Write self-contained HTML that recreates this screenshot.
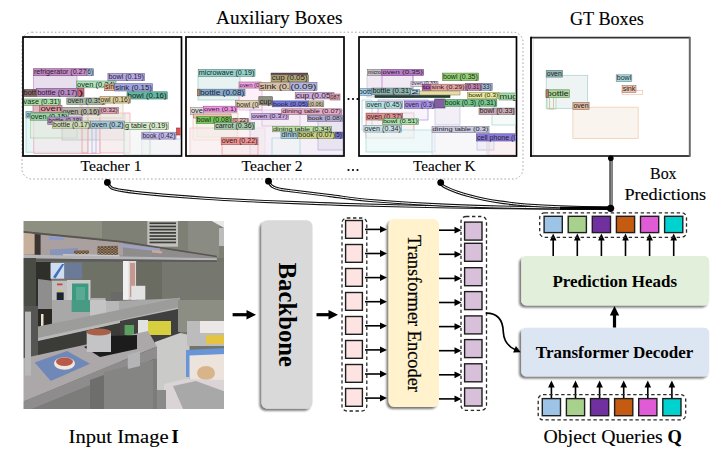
<!DOCTYPE html>
<html><head><meta charset="utf-8">
<style>
html,body{margin:0;padding:0;background:#fff;}
body{width:726px;height:471px;overflow:hidden;position:relative;}
svg{position:absolute;left:0;top:0;}
.sf{font-family:"Liberation Serif",serif;}
.ss{font-family:"Liberation Sans",sans-serif;}
</style></head><body>
<svg width="726" height="471" viewBox="0 0 726 471">
<defs>
  <filter id="sh" x="-20%" y="-20%" width="140%" height="140%">
    <feGaussianBlur in="SourceAlpha" stdDeviation="1.2"/>
    <feOffset dx="-2" dy="2" result="o"/>
    <feComponentTransfer><feFuncA type="linear" slope="0.55"/></feComponentTransfer>
    <feMerge><feMergeNode/><feMergeNode in="SourceGraphic"/></feMerge>
  </filter>
  <marker id="ah" viewBox="0 0 10 10" refX="9" refY="5" markerWidth="10" markerHeight="10" markerUnits="userSpaceOnUse" orient="auto">
    <path d="M0,0 L10,5 L0,10 z" fill="#000"/>
  </marker>
</defs>

<!-- ===== TOP TITLES ===== -->
<g class="sf" fill="#000" stroke="#000" stroke-width="0.12">
  <text x="216" y="24.2" font-size="18.2" textLength="126.5" lengthAdjust="spacingAndGlyphs">Auxiliary Boxes</text>
  <text x="570" y="24.8" font-size="18.6" textLength="73.8" lengthAdjust="spacingAndGlyphs">GT Boxes</text>
  <text x="80.5" y="170.7" font-size="14.6" textLength="61" lengthAdjust="spacingAndGlyphs">Teacher 1</text>
  <text x="241.6" y="170.7" font-size="14.6" textLength="61" lengthAdjust="spacingAndGlyphs">Teacher 2</text>
  <text x="413" y="170.7" font-size="14.6" textLength="62.5" lengthAdjust="spacingAndGlyphs">Teacher K</text>
  <text x="650" y="179.2" font-size="16" textLength="26.6" lengthAdjust="spacingAndGlyphs">Box</text>
  <text x="624.4" y="199.5" font-size="16" textLength="81.8" lengthAdjust="spacingAndGlyphs">Predictions</text>
  <text x="68.6" y="442.9" font-size="18.6" textLength="100" lengthAdjust="spacingAndGlyphs">Input Image</text>
  <text x="171.5" y="442.9" font-size="18.6" font-weight="bold">I</text>
  <text x="543.6" y="442.6" font-size="18.4" textLength="119" lengthAdjust="spacingAndGlyphs">Object Queries</text>
  <text x="667.5" y="442.6" font-size="18.4" font-weight="bold">Q</text>
</g>
<!-- dots -->
<g fill="#000">
  <circle cx="348.5" cy="170" r="1.1"/><circle cx="353" cy="170" r="1.1"/><circle cx="357.5" cy="170" r="1.1"/>
  <circle cx="348.5" cy="99" r="1.1"/><circle cx="353" cy="99" r="1.1"/><circle cx="357.5" cy="99" r="1.1"/>
</g>

<!-- dashed aux container -->
<rect x="22" y="32.2" width="501" height="146.8" rx="10" fill="none" stroke="#a6a6a6" stroke-width="1" stroke-dasharray="1.6 2.2"/>

<!-- ===== PANELS ===== -->
<g id="panels">
  <rect x="23" y="37" width="158.5" height="119" fill="#fff" stroke="#000" stroke-width="1.7"/>
  <rect x="186" y="37" width="158" height="119" fill="#fff" stroke="#000" stroke-width="1.7"/>
  <rect x="359" y="37" width="157.5" height="119" fill="#fff" stroke="#000" stroke-width="1.7"/>
  <rect x="531" y="37.8" width="159" height="118" fill="#fff"/>
  <line x1="531" y1="37.6" x2="690" y2="37.6" stroke="#333" stroke-width="1.6"/>
  <line x1="531" y1="36.8" x2="531" y2="156.8" stroke="#000" stroke-width="1.8"/>
  <line x1="530.2" y1="156" x2="690" y2="156" stroke="#000" stroke-width="1.6"/>
  <line x1="689.8" y1="36.8" x2="689.8" y2="156.8" stroke="#6a6a6a" stroke-width="2"/>
  <line x1="533.2" y1="39" x2="533.2" y2="155" stroke="#e4e4e4" stroke-width="1.2"/>
</g>
<defs>
<clipPath id="cp1"><rect x="24" y="38" width="156.5" height="117"/></clipPath>
<clipPath id="cp2"><rect x="187" y="38" width="156" height="117"/></clipPath>
<clipPath id="cpk"><rect x="360" y="38" width="155.5" height="117"/></clipPath>
<clipPath id="cpg"><rect x="532" y="38.7" width="157" height="116.2"/></clipPath>
</defs>
<g style="font-family:'Liberation Sans',sans-serif">
<g clip-path="url(#cp1)">
<rect x="33.4" y="75.7" width="43.6" height="19.3" fill="#e4dcec" fill-opacity="0.9" stroke="#d090d0" stroke-width="0.7"/>
<rect x="26" y="112" width="61.8" height="40.2" fill="#e0f0f0" fill-opacity="0.7" stroke="#90d8d8" stroke-width="0.7"/>
<rect x="33.8" y="108" width="66.2" height="45.5" fill="#f4e4e8" fill-opacity="0.5" stroke="#f0a0b0" stroke-width="0.7"/>
<rect x="30.5" y="112" width="46.5" height="26.0" fill="#e0ece0" fill-opacity="0.6" stroke="#a0d8a0" stroke-width="0.7"/>
<rect x="62" y="114" width="63.0" height="26.0" fill="#dcdcd8" fill-opacity="0.5" stroke="#c0c0c0" stroke-width="0.7"/>
<rect x="100" y="113" width="30.0" height="40.0" fill="#f2e2e6" fill-opacity="0.6" stroke="#f0a0b0" stroke-width="0.7"/>
<rect x="141.8" y="139" width="39.2" height="16.0" fill="#eeeef4" fill-opacity="0.6" stroke="#c0b8f0" stroke-width="0.7"/>
<rect x="124" y="129" width="26.0" height="26.0" fill="#eef4f0" fill-opacity="0.6" stroke="#a8d8c8" stroke-width="0.7"/>
<rect x="82" y="99" width="6.0" height="54.0" fill="none" stroke="#f09090" stroke-width="0.7"/>
<rect x="92" y="125" width="4.0" height="28.0" fill="none" stroke="#90b0f0" stroke-width="0.7"/>
<rect x="80" y="103" width="43.0" height="15.0" fill="#f0ece0" fill-opacity="0.5" stroke="#d8d0b0" stroke-width="0.7"/>
<rect x="33.4" y="68.7" width="53.6" height="7.0" fill="#c98ac9" stroke="#7c557c" stroke-width="0.6"/>
<text fill="#1c1c1c" x="34.0" y="74.4" font-size="6.8" textLength="52.4" lengthAdjust="spacingAndGlyphs">refrigerator (0.27</text>
<rect x="87" y="68.7" width="6.6" height="7.0" fill="#a9bde0" stroke="#68758a" stroke-width="0.6"/>
<text fill="#1c1c1c" x="87.6" y="74.4" font-size="6.8" textLength="5.4" lengthAdjust="spacingAndGlyphs">6)</text>
<rect x="107.9" y="73.3" width="36.6" height="7.4" fill="#b9a9e8" stroke="#72688f" stroke-width="0.6"/>
<text fill="#1c1c1c" x="108.5" y="79.4" font-size="6.8" textLength="35.4" lengthAdjust="spacingAndGlyphs">bowl (0.19)</text>
<rect x="76.4" y="81" width="39.6" height="6.8" fill="#aae6b8" stroke="#698e72" stroke-width="0.6"/>
<text fill="#1c1c1c" x="77.0" y="86.5" font-size="6.8" textLength="38.4" lengthAdjust="spacingAndGlyphs">oven (0.24)</text>
<rect x="104.5" y="84" width="10.2" height="6.7" fill="#e8b090" stroke="#8f6d59" stroke-width="0.6"/>
<text fill="#1c1c1c" x="105.1" y="89.4" font-size="6.7" textLength="9.0" lengthAdjust="spacingAndGlyphs">sin</text>
<rect x="114.7" y="83.7" width="37.8" height="7.3" fill="#a0a4e4" stroke="#63658d" stroke-width="0.6"/>
<text fill="#1c1c1c" x="115.3" y="89.7" font-size="6.8" textLength="36.6" lengthAdjust="spacingAndGlyphs">sink (0.15)</text>
<rect x="127" y="91.8" width="40.2" height="7.2" fill="#62b8a2" stroke="#3c7264" stroke-width="0.6"/>
<text fill="#1c1c1c" x="127.6" y="97.7" font-size="6.8" textLength="39.0" lengthAdjust="spacingAndGlyphs">bowl (0.16)</text>
<rect x="23" y="89.4" width="13.6" height="7.0" fill="#8a6a6a" stroke="#554141" stroke-width="0.6"/>
<text fill="#1c1c1c" x="23.6" y="95.1" font-size="6.8" textLength="12.4" lengthAdjust="spacingAndGlyphs">bott</text>
<rect x="36.6" y="88.4" width="41.4" height="8.0" fill="#b888c4" stroke="#725479" stroke-width="0.6"/>
<text fill="#1c1c1c" x="37.2" y="95.1" font-size="6.8" textLength="40.2" lengthAdjust="spacingAndGlyphs">bottle (0.17)</text>
<rect x="78" y="88.4" width="6.0" height="8.0" fill="#d06878" stroke="#80404a" stroke-width="0.6"/>
<text fill="#1c1c1c" x="78.6" y="95.1" font-size="6.8" textLength="4.8" lengthAdjust="spacingAndGlyphs">)</text>
<rect x="23" y="99" width="37.5" height="6.3" fill="#a6e4a6" stroke="#668d66" stroke-width="0.6"/>
<text fill="#1c1c1c" x="23.6" y="104.0" font-size="6.3" textLength="36.3" lengthAdjust="spacingAndGlyphs">vase (0.31)</text>
<rect x="66.8" y="98" width="38.2" height="6.3" fill="#a8bca8" stroke="#687468" stroke-width="0.6"/>
<text fill="#1c1c1c" x="67.4" y="103.0" font-size="6.3" textLength="37.0" lengthAdjust="spacingAndGlyphs">oven (0.35)</text>
<rect x="100" y="96.4" width="30.5" height="6.6" fill="#e2d09a" stroke="#8c805f" stroke-width="0.6"/>
<text fill="#1c1c1c" x="100.6" y="101.7" font-size="6.6" textLength="29.3" lengthAdjust="spacingAndGlyphs">owl (0.16)</text>
<rect x="33" y="105.3" width="7.0" height="7.0" fill="#e8b4c0" stroke="#8f6f77" stroke-width="0.6"/>
<rect x="39.8" y="105.3" width="22.2" height="7.0" fill="#e49aa6" stroke="#8d5f66" stroke-width="0.6"/>
<text fill="#1c1c1c" x="40.4" y="111.0" font-size="6.8" textLength="21.0" lengthAdjust="spacingAndGlyphs">oven</text>
<rect x="62" y="107.5" width="38.0" height="7.3" fill="#b8b4a8" stroke="#726f68" stroke-width="0.6"/>
<text fill="#1c1c1c" x="62.6" y="113.5" font-size="6.8" textLength="36.8" lengthAdjust="spacingAndGlyphs">oven (0.16)</text>
<rect x="100" y="107.5" width="18.4" height="5.9" fill="#e2a4b4" stroke="#8c656f" stroke-width="0.6"/>
<text fill="#1c1c1c" x="100.6" y="112.1" font-size="5.9" textLength="17.2" lengthAdjust="spacingAndGlyphs">(0.32)</text>
<rect x="26" y="111.5" width="6.0" height="6.5" fill="#9ed0e0" stroke="#61808a" stroke-width="0.6"/>
<text fill="#1c1c1c" x="26.6" y="116.7" font-size="6.5" textLength="4.8" lengthAdjust="spacingAndGlyphs">ov</text>
<rect x="30.2" y="113" width="38.2" height="7.2" fill="#96d8a4" stroke="#5d8565" stroke-width="0.6"/>
<text fill="#1c1c1c" x="30.8" y="118.9" font-size="6.8" textLength="37.0" lengthAdjust="spacingAndGlyphs">oven (0.15)</text>
<rect x="47.7" y="117" width="34.3" height="7.4" fill="#b898d0" stroke="#725e80" stroke-width="0.6"/>
<text fill="#1c1c1c" x="48.3" y="123.1" font-size="6.8" textLength="33.1" lengthAdjust="spacingAndGlyphs">bottle (0.18)</text>
<rect x="52.5" y="121" width="38.2" height="7.2" fill="#cfdcb4" stroke="#80886f" stroke-width="0.6"/>
<text fill="#1c1c1c" x="53.1" y="126.9" font-size="6.8" textLength="37.0" lengthAdjust="spacingAndGlyphs">bottle (0.17)</text>
<rect x="90.7" y="121" width="33.6" height="7.2" fill="#a4c8d8" stroke="#657c85" stroke-width="0.6"/>
<text fill="#1c1c1c" x="91.3" y="126.9" font-size="6.8" textLength="32.4" lengthAdjust="spacingAndGlyphs">oven (0.2)</text>
<rect x="124.3" y="122.6" width="44.1" height="6.9" fill="#d6eec8" stroke="#84937c" stroke-width="0.6"/>
<text fill="#1c1c1c" x="124.9" y="128.2" font-size="6.8" textLength="42.9" lengthAdjust="spacingAndGlyphs">g table (0.19)</text>
<rect x="141.8" y="132.2" width="34.2" height="6.8" fill="#c2baf0" stroke="#787394" stroke-width="0.6"/>
<text fill="#1c1c1c" x="142.4" y="137.7" font-size="6.8" textLength="33.0" lengthAdjust="spacingAndGlyphs">book (0.42)</text>
<rect x="176.5" y="128" width="4.5" height="7.0" fill="#e05050" stroke="#8a3131" stroke-width="0.6"/>
</g>
<g clip-path="url(#cp2)">
<rect x="198" y="76" width="42.0" height="24.0" fill="#e6f2f0" fill-opacity="0.9" stroke="#90d0c8" stroke-width="0.7"/>
<rect x="239" y="88" width="23.0" height="22.0" fill="#fcecf6" fill-opacity="0.8" stroke="#f0a0e0" stroke-width="0.7"/>
<rect x="197" y="121" width="40.0" height="16.0" fill="#eef8e8" fill-opacity="0.7" stroke="#a0e080" stroke-width="0.7"/>
<rect x="193" y="113" width="45.0" height="27.0" fill="#f8ece6" fill-opacity="0.5" stroke="#f0c0b0" stroke-width="0.7"/>
<rect x="190" y="128" width="75.0" height="27.0" fill="#f6eaea" fill-opacity="0.6" stroke="#f0c0c0" stroke-width="0.7"/>
<rect x="250" y="110" width="93.0" height="45.0" fill="#eee6f2" fill-opacity="0.6" stroke="#c8a8e6" stroke-width="0.7"/>
<rect x="318" y="120" width="25.0" height="30.0" fill="#e2daee" fill-opacity="0.6" stroke="#b4acd4" stroke-width="0.7"/>
<rect x="222" y="144" width="36.0" height="11.0" fill="#f6e6e6" fill-opacity="0.5" stroke="#f29494" stroke-width="0.7"/>
<rect x="272" y="138" width="28.0" height="17.0" fill="#eef4f6" fill-opacity="0.5" stroke="#a4d2e2" stroke-width="0.7"/>
<rect x="262" y="105" width="38.0" height="21.0" fill="#f6eaf2" fill-opacity="0.5" stroke="#e0b0d0" stroke-width="0.7"/>
<rect x="198.2" y="69.4" width="56.8" height="6.9" fill="#94d4cc" stroke="#5b837e" stroke-width="0.6"/>
<text fill="#1c1c1c" x="198.8" y="75.0" font-size="6.8" textLength="55.6" lengthAdjust="spacingAndGlyphs">microwave (0.19)</text>
<rect x="239" y="82" width="22.6" height="6.0" fill="#f2a2e2" stroke="#96648c" stroke-width="0.6"/>
<text fill="#1c1c1c" x="239.6" y="86.7" font-size="6.0" textLength="21.4" lengthAdjust="spacingAndGlyphs">oven (0.</text>
<rect x="271.1" y="73.1" width="36.6" height="1.8" fill="#604060" stroke="#3b273b" stroke-width="0.6"/>
<rect x="271.1" y="74.9" width="37.2" height="6.8" fill="#b4a678" stroke="#6f664a" stroke-width="0.6"/>
<text fill="#1c1c1c" x="271.7" y="80.4" font-size="6.8" textLength="36.0" lengthAdjust="spacingAndGlyphs">cup (0.05)</text>
<rect x="259.2" y="82.3" width="30.8" height="8.0" fill="#d8c0a8" stroke="#857768" stroke-width="0.6"/>
<text fill="#1c1c1c" x="259.8" y="89.0" font-size="6.8" textLength="29.6" lengthAdjust="spacingAndGlyphs">sink (0.</text>
<rect x="290" y="82.3" width="27.0" height="8.0" fill="#b0b4dc" stroke="#6d6f88" stroke-width="0.6"/>
<text fill="#1c1c1c" x="290.6" y="89.0" font-size="6.8" textLength="25.8" lengthAdjust="spacingAndGlyphs">(0.09)</text>
<rect x="197.5" y="89.2" width="2.5" height="6.6" fill="#c08050" stroke="#774f31" stroke-width="0.6"/>
<rect x="199.3" y="89.2" width="45.7" height="6.6" fill="#84aad2" stroke="#516982" stroke-width="0.6"/>
<text fill="#1c1c1c" x="199.9" y="94.5" font-size="6.6" textLength="44.5" lengthAdjust="spacingAndGlyphs">bottle (0.08)</text>
<rect x="295.2" y="92.6" width="38.8" height="6.3" fill="#d4aadc" stroke="#836988" stroke-width="0.6"/>
<text fill="#1c1c1c" x="295.8" y="97.6" font-size="6.3" textLength="37.6" lengthAdjust="spacingAndGlyphs">cup (0.05)</text>
<rect x="330" y="94" width="10.0" height="6.0" fill="#e0a0b0" stroke="#8a636d" stroke-width="0.6"/>
<text fill="#1c1c1c" x="330.6" y="98.7" font-size="6.0" textLength="8.8" lengthAdjust="spacingAndGlyphs">087</text>
<rect x="262" y="98.3" width="9.9" height="6.6" fill="#a8a070" stroke="#686345" stroke-width="0.6"/>
<text fill="#1c1c1c" x="262.6" y="103.6" font-size="6.6" textLength="8.7" lengthAdjust="spacingAndGlyphs">cup</text>
<rect x="258.8" y="96.7" width="13.5" height="8.2" fill="#909080" stroke="#59594f" stroke-width="0.6"/>
<text fill="#1c1c1c" x="259.4" y="103.6" font-size="6.8" textLength="12.3" lengthAdjust="spacingAndGlyphs">cup</text>
<rect x="235.6" y="100.6" width="23.2" height="7.2" fill="#e2d2b2" stroke="#8c826e" stroke-width="0.6"/>
<text fill="#1c1c1c" x="236.2" y="106.5" font-size="6.8" textLength="22.0" lengthAdjust="spacingAndGlyphs">bowl (0</text>
<rect x="272.5" y="100.9" width="36.2" height="5.9" fill="#7478e0" stroke="#474a8a" stroke-width="0.6"/>
<text fill="#1c1c1c" x="273.1" y="105.5" font-size="5.9" textLength="35.0" lengthAdjust="spacingAndGlyphs">book (0.05)</text>
<rect x="308.7" y="100.9" width="15.1" height="5.9" fill="#d2c2a2" stroke="#827864" stroke-width="0.6"/>
<text fill="#1c1c1c" x="309.3" y="105.5" font-size="5.9" textLength="13.9" lengthAdjust="spacingAndGlyphs">(0.06)</text>
<rect x="190.3" y="107.5" width="13.1" height="7.2" fill="#e2dede" stroke="#8c8989" stroke-width="0.6"/>
<text fill="#1c1c1c" x="190.9" y="113.4" font-size="6.8" textLength="11.9" lengthAdjust="spacingAndGlyphs">ove</text>
<rect x="203.4" y="106.2" width="33.6" height="5.9" fill="#f094e2" stroke="#945b8c" stroke-width="0.6"/>
<text fill="#1c1c1c" x="204.0" y="110.8" font-size="5.9" textLength="32.4" lengthAdjust="spacingAndGlyphs">oven (0.1)</text>
<rect x="193.5" y="114" width="37.5" height="4.0" fill="#f2c4b4" stroke="#96796f" stroke-width="0.6"/>
<rect x="196.2" y="116.7" width="35.5" height="6.6" fill="#74c854" stroke="#477c34" stroke-width="0.6"/>
<text fill="#1c1c1c" x="196.8" y="122.0" font-size="6.6" textLength="34.3" lengthAdjust="spacingAndGlyphs">bowl (0.08)</text>
<rect x="231.7" y="118.7" width="17.1" height="4.6" fill="#eab4ac" stroke="#916f6a" stroke-width="0.6"/>
<text fill="#1c1c1c" x="232.3" y="122.0" font-size="4.6" textLength="15.9" lengthAdjust="spacingAndGlyphs">(0.22)</text>
<rect x="214.6" y="122.6" width="40.1" height="6.6" fill="#a4caa8" stroke="#657d68" stroke-width="0.6"/>
<text fill="#1c1c1c" x="215.2" y="127.9" font-size="6.6" textLength="38.9" lengthAdjust="spacingAndGlyphs">carrot (0.36)</text>
<rect x="221.2" y="137.8" width="36.8" height="6.9" fill="#f29494" stroke="#965b5b" stroke-width="0.6"/>
<text fill="#1c1c1c" x="221.8" y="143.4" font-size="6.8" textLength="35.6" lengthAdjust="spacingAndGlyphs">oven (0.22)</text>
<rect x="251.4" y="113.4" width="36.9" height="5.9" fill="#caa8e6" stroke="#7d688e" stroke-width="0.6"/>
<text fill="#1c1c1c" x="252.0" y="118.0" font-size="5.9" textLength="35.7" lengthAdjust="spacingAndGlyphs">oven (0.37)</text>
<rect x="281.7" y="108.8" width="59.9" height="5.9" fill="#eaaaca" stroke="#91697d" stroke-width="0.6"/>
<text fill="#1c1c1c" x="282.3" y="113.4" font-size="5.9" textLength="58.7" lengthAdjust="spacingAndGlyphs">dining table (0.07)</text>
<rect x="307.4" y="115.4" width="35.1" height="5.9" fill="#b4acd4" stroke="#6f6a83" stroke-width="0.6"/>
<text fill="#1c1c1c" x="308.0" y="120.0" font-size="5.9" textLength="33.9" lengthAdjust="spacingAndGlyphs">book (0.08)</text>
<rect x="272.5" y="126.3" width="59.2" height="5.5" fill="#bce2a4" stroke="#748c65" stroke-width="0.6"/>
<text fill="#1c1c1c" x="273.1" y="130.5" font-size="5.5" textLength="58.0" lengthAdjust="spacingAndGlyphs">dining table (0.34)</text>
<rect x="281" y="132.1" width="16.5" height="6.3" fill="#a4d2e2" stroke="#65828c" stroke-width="0.6"/>
<text fill="#1c1c1c" x="281.6" y="137.1" font-size="6.3" textLength="15.3" lengthAdjust="spacingAndGlyphs">dinin</text>
<rect x="297.5" y="132.1" width="38.2" height="6.3" fill="#cad282" stroke="#7d8250" stroke-width="0.6"/>
<text fill="#1c1c1c" x="298.1" y="137.1" font-size="6.3" textLength="37.0" lengthAdjust="spacingAndGlyphs">book (0.07)</text>
<rect x="335.7" y="132.1" width="6.8" height="6.3" fill="#7474d4" stroke="#474783" stroke-width="0.6"/>
<text fill="#1c1c1c" x="336.3" y="137.1" font-size="6.3" textLength="5.6" lengthAdjust="spacingAndGlyphs">5)</text>
</g>
<g clip-path="url(#cpk)">
<rect x="367" y="75" width="46.0" height="22.0" fill="#f0e8f4" fill-opacity="0.9" stroke="#c8c0c8" stroke-width="0.7"/>
<rect x="382" y="75" width="31.0" height="22.0" fill="none" stroke="#ba7aca" stroke-width="0.7"/>
<rect x="366" y="113" width="48.0" height="25.0" fill="#f6eaea" fill-opacity="0.7" stroke="#e09090" stroke-width="0.7"/>
<rect x="366" y="130" width="69.0" height="22.0" fill="#eaf6f6" fill-opacity="0.7" stroke="#a0d8d8" stroke-width="0.7"/>
<rect x="378" y="100" width="50.0" height="20.0" fill="#f0ecf8" fill-opacity="0.5" stroke="#a890e8" stroke-width="0.7"/>
<rect x="435" y="106" width="25.0" height="19.0" fill="#ece8f4" fill-opacity="0.7" stroke="#c8c0e0" stroke-width="0.7"/>
<rect x="477" y="140" width="17.0" height="10.0" fill="#e4e6f4" fill-opacity="0.7" stroke="#8080d0" stroke-width="0.7"/>
<rect x="487" y="140" width="29.0" height="15.0" fill="#f6eaea" fill-opacity="0.6" stroke="#e0a0a0" stroke-width="0.7"/>
<rect x="492" y="108" width="24.0" height="17.0" fill="#eef6f4" fill-opacity="0.5" stroke="#a0d8d0" stroke-width="0.7"/>
<rect x="432" y="132" width="57.0" height="23.0" fill="#f0f0f6" fill-opacity="0.5" stroke="#cacae2" stroke-width="0.7"/>
<rect x="362" y="100" width="10.0" height="30.0" fill="none" stroke="#a4d2f0" stroke-width="0.7"/>
<rect x="367.4" y="69.4" width="14.3" height="6.0" fill="#c8c0c8" stroke="#7c777c" stroke-width="0.6"/>
<text fill="#1c1c1c" x="368.0" y="74.1" font-size="6.0" textLength="13.1" lengthAdjust="spacingAndGlyphs">micro</text>
<rect x="381.7" y="69.4" width="41.9" height="6.0" fill="#ba7aca" stroke="#734b7d" stroke-width="0.6"/>
<text fill="#1c1c1c" x="382.3" y="74.1" font-size="6.0" textLength="40.7" lengthAdjust="spacingAndGlyphs">oven (0.35)</text>
<rect x="410.9" y="81.5" width="27.1" height="4.9" fill="#e4dcf2" stroke="#8d8896" stroke-width="0.6"/>
<text fill="#1c1c1c" x="411.5" y="85.1" font-size="4.9" textLength="25.9" lengthAdjust="spacingAndGlyphs">oven (0.33)</text>
<rect x="422.2" y="84.2" width="8.7" height="6.2" fill="#b060b0" stroke="#6d3b6d" stroke-width="0.6"/>
<text fill="#1c1c1c" x="422.8" y="89.1" font-size="6.2" textLength="7.5" lengthAdjust="spacingAndGlyphs">to</text>
<rect x="430.9" y="84.2" width="34.4" height="6.2" fill="#e8a2a2" stroke="#8f6464" stroke-width="0.6"/>
<text fill="#1c1c1c" x="431.5" y="89.1" font-size="6.2" textLength="33.2" lengthAdjust="spacingAndGlyphs">sink (0.29)</text>
<rect x="465.3" y="83.4" width="16.6" height="6.9" fill="#c282b2" stroke="#78506e" stroke-width="0.6"/>
<text fill="#1c1c1c" x="465.9" y="89.0" font-size="6.8" textLength="15.4" lengthAdjust="spacingAndGlyphs">(0.31)</text>
<rect x="481.9" y="83.4" width="10.3" height="6.9" fill="#a4bada" stroke="#657387" stroke-width="0.6"/>
<text fill="#1c1c1c" x="482.5" y="89.0" font-size="6.8" textLength="9.1" lengthAdjust="spacingAndGlyphs">33)</text>
<rect x="442.4" y="73.1" width="36.0" height="7.5" fill="#94d274" stroke="#5b8247" stroke-width="0.6"/>
<text fill="#1c1c1c" x="443.0" y="79.3" font-size="6.8" textLength="34.8" lengthAdjust="spacingAndGlyphs">bowl (0.35)</text>
<rect x="358" y="88.6" width="13.8" height="6.7" fill="#a4d2f0" stroke="#658294" stroke-width="0.6"/>
<text fill="#1c1c1c" x="358.6" y="94.0" font-size="6.7" textLength="12.6" lengthAdjust="spacingAndGlyphs">bott</text>
<rect x="371.8" y="88.1" width="40.2" height="6.6" fill="#8cb4b0" stroke="#566f6d" stroke-width="0.6"/>
<text fill="#1c1c1c" x="372.4" y="93.4" font-size="6.6" textLength="39.0" lengthAdjust="spacingAndGlyphs">bottle (0.31)</text>
<rect x="410.6" y="89.5" width="8.7" height="5.3" fill="#a4cae2" stroke="#657d8c" stroke-width="0.6"/>
<text fill="#1c1c1c" x="411.2" y="93.5" font-size="5.3" textLength="7.5" lengthAdjust="spacingAndGlyphs">2</text>
<rect x="419.3" y="91" width="40.7" height="4.0" fill="#e8dca0" stroke="#8f8863" stroke-width="0.6"/>
<rect x="375" y="95.5" width="75.0" height="2.0" fill="#204030" stroke="#13271d" stroke-width="0.6"/>
<rect x="467.6" y="92.6" width="31.4" height="5.7" fill="#eaea92" stroke="#91915a" stroke-width="0.6"/>
<text fill="#1c1c1c" x="468.2" y="97.0" font-size="5.7" textLength="30.2" lengthAdjust="spacingAndGlyphs">bowl (0.3)</text>
<rect x="499" y="93" width="19.0" height="7.0" fill="#a0e0a8" stroke="#638a68" stroke-width="0.6"/>
<text fill="#1c1c1c" x="499.6" y="98.7" font-size="6.8" textLength="17.8" lengthAdjust="spacingAndGlyphs">mug</text>
<rect x="404.3" y="101" width="30.4" height="7.3" fill="#aa92ea" stroke="#695a91" stroke-width="0.6"/>
<text fill="#1c1c1c" x="404.9" y="107.0" font-size="6.8" textLength="29.2" lengthAdjust="spacingAndGlyphs">oven (0.3)</text>
<rect x="434.7" y="99" width="10.3" height="9.0" fill="#8060a0" stroke="#4f3b63" stroke-width="0.6"/>
<rect x="444.2" y="99.6" width="52.6" height="6.6" fill="#74ca8c" stroke="#477d56" stroke-width="0.6"/>
<text fill="#1c1c1c" x="444.8" y="104.9" font-size="6.6" textLength="51.4" lengthAdjust="spacingAndGlyphs">book (0.3) (0.31)</text>
<rect x="365.9" y="101.6" width="36.8" height="6.6" fill="#b2e2e2" stroke="#6e8c8c" stroke-width="0.6"/>
<text fill="#1c1c1c" x="366.5" y="106.9" font-size="6.6" textLength="35.6" lengthAdjust="spacingAndGlyphs">oven (0.45)</text>
<rect x="366.2" y="113.4" width="36.5" height="6.6" fill="#e29292" stroke="#8c5a5a" stroke-width="0.6"/>
<text fill="#1c1c1c" x="366.8" y="118.7" font-size="6.6" textLength="35.3" lengthAdjust="spacingAndGlyphs">oven (0.37)</text>
<rect x="382.3" y="118.7" width="36.2" height="5.9" fill="#aae2aa" stroke="#698c69" stroke-width="0.6"/>
<text fill="#1c1c1c" x="382.9" y="123.3" font-size="5.9" textLength="35.0" lengthAdjust="spacingAndGlyphs">bowl (0.51)</text>
<rect x="363.9" y="125.3" width="37.5" height="6.8" fill="#cae2ea" stroke="#7d8c91" stroke-width="0.6"/>
<text fill="#1c1c1c" x="364.5" y="130.8" font-size="6.8" textLength="36.3" lengthAdjust="spacingAndGlyphs">oven (0.34)</text>
<rect x="479" y="108.2" width="36.3" height="6.3" fill="#caaab2" stroke="#7d696e" stroke-width="0.6"/>
<text fill="#1c1c1c" x="479.6" y="113.2" font-size="6.3" textLength="35.1" lengthAdjust="spacingAndGlyphs">bowl (0.33)</text>
<rect x="432" y="126.6" width="57.0" height="5.9" fill="#cacae2" stroke="#7d7d8c" stroke-width="0.6"/>
<text fill="#1c1c1c" x="432.6" y="131.2" font-size="5.9" textLength="55.8" lengthAdjust="spacingAndGlyphs">dining table (0.3)</text>
<rect x="476.4" y="133.8" width="41.6" height="7.2" fill="#8a7ae2" stroke="#554b8c" stroke-width="0.6"/>
<text fill="#1c1c1c" x="477.0" y="139.7" font-size="6.8" textLength="40.4" lengthAdjust="spacingAndGlyphs">cell phone (0</text>
</g>
<g clip-path="url(#cpg)">
<rect x="546.2" y="75.3" width="41.5" height="33.0" fill="#eef4f4" fill-opacity="1" stroke="#a8cccc" stroke-width="0.7"/>
<rect x="572.9" y="107.2" width="65.3" height="31.2" fill="#faf4ee" fill-opacity="1" stroke="#f0c8a8" stroke-width="0.7"/>
<rect x="622" y="90.3" width="20.7" height="4.0" fill="none" stroke="#f0c0a8" stroke-width="0.7"/>
<rect x="547" y="97" width="9.0" height="12.0" fill="none" stroke="#a0d8a0" stroke-width="0.7"/>
<rect x="549.5" y="97" width="4.0" height="12.0" fill="none" stroke="#d0b090" stroke-width="0.7"/>
<rect x="546.2" y="70.3" width="16.2" height="6.8" fill="#92baba" stroke="#5a7373" stroke-width="0.6"/>
<text fill="#1c1c1c" x="546.8" y="75.8" font-size="6.8" textLength="15.0" lengthAdjust="spacingAndGlyphs">oven</text>
<rect x="546.2" y="89.8" width="23.1" height="7.7" fill="#a8d898" stroke="#68855e" stroke-width="0.6"/>
<text fill="#1c1c1c" x="546.8" y="96.2" font-size="6.8" textLength="21.9" lengthAdjust="spacingAndGlyphs">bottle</text>
<rect x="546" y="89.8" width="2.5" height="7.7" fill="#b08060" stroke="#6d4f3b" stroke-width="0.6"/>
<rect x="572.9" y="102.4" width="16.2" height="7.2" fill="#e2b8a0" stroke="#8c7263" stroke-width="0.6"/>
<text fill="#1c1c1c" x="573.5" y="108.3" font-size="6.8" textLength="15.0" lengthAdjust="spacingAndGlyphs">oven</text>
<rect x="616.2" y="74.8" width="15.6" height="6.8" fill="#a8dae2" stroke="#68878c" stroke-width="0.6"/>
<text fill="#1c1c1c" x="616.8" y="80.3" font-size="6.8" textLength="14.4" lengthAdjust="spacingAndGlyphs">bowl</text>
<rect x="622.1" y="85.6" width="13.9" height="6.9" fill="#f2c2b0" stroke="#96786d" stroke-width="0.6"/>
<text fill="#1c1c1c" x="622.7" y="91.2" font-size="6.8" textLength="12.7" lengthAdjust="spacingAndGlyphs">sink</text>
</g>
</g>

<!-- ===== CONNECTORS ===== -->
<path d="M107.4,182.4 C108.08,183.30 108.98,186.43 111.5,187.8 C114.02,189.17 116.08,189.58 122.5,190.6 C128.92,191.62 136.25,192.62 150,193.9 C163.75,195.18 188.33,197.15 205,198.3 C221.67,199.45 235.00,200.08 250,200.8 C265.00,201.52 278.33,201.97 295,202.6 C311.67,203.23 324.17,203.87 350,204.6 C375.83,205.33 420.00,206.43 450,207 C480.00,207.57 503.25,207.78 530,208 C556.75,208.22 597.08,208.25 610.5,208.3" fill="none" stroke="#111" stroke-width="3.1"/>
<path d="M107.4,182.4 C108.08,183.30 108.98,186.43 111.5,187.8 C114.02,189.17 116.08,189.58 122.5,190.6 C128.92,191.62 136.25,192.62 150,193.9 C163.75,195.18 188.33,197.15 205,198.3 C221.67,199.45 235.00,200.08 250,200.8 C265.00,201.52 278.33,201.97 295,202.6 C311.67,203.23 324.17,203.87 350,204.6 C375.83,205.33 420.00,206.43 450,207 C480.00,207.57 503.25,207.78 530,208 C556.75,208.22 597.08,208.25 610.5,208.3" fill="none" stroke="#fff" stroke-width="1.0"/>
<path d="M268.5,181.2 C269.08,182.03 270.08,184.87 272,186.2 C273.92,187.53 276.17,188.35 280,189.2 C283.83,190.05 286.67,190.23 295,191.3 C303.33,192.37 316.83,194.02 330,195.6 C343.17,197.18 354.00,199.17 374,200.8 C394.00,202.43 425.67,204.30 450,205.4 C474.33,206.50 493.25,206.92 520,207.4 C546.75,207.88 595.42,208.15 610.5,208.3" fill="none" stroke="#111" stroke-width="3.1"/>
<path d="M268.5,181.2 C269.08,182.03 270.08,184.87 272,186.2 C273.92,187.53 276.17,188.35 280,189.2 C283.83,190.05 286.67,190.23 295,191.3 C303.33,192.37 316.83,194.02 330,195.6 C343.17,197.18 354.00,199.17 374,200.8 C394.00,202.43 425.67,204.30 450,205.4 C474.33,206.50 493.25,206.92 520,207.4 C546.75,207.88 595.42,208.15 610.5,208.3" fill="none" stroke="#fff" stroke-width="1.0"/>
<path d="M440.7,182.6 C441.22,183.22 441.00,184.70 443.8,186.3 C446.60,187.90 452.92,190.53 457.5,192.2 C462.08,193.87 466.72,195.08 471.3,196.3 C475.88,197.52 480.40,198.57 485,199.5 C489.60,200.43 494.30,201.22 498.9,201.9 C503.50,202.58 508.02,203.08 512.6,203.6 C517.18,204.12 518.50,204.47 526.4,205 C534.30,205.53 545.98,206.25 560,206.8 C574.02,207.35 602.08,208.05 610.5,208.3" fill="none" stroke="#111" stroke-width="3.1"/>
<path d="M440.7,182.6 C441.22,183.22 441.00,184.70 443.8,186.3 C446.60,187.90 452.92,190.53 457.5,192.2 C462.08,193.87 466.72,195.08 471.3,196.3 C475.88,197.52 480.40,198.57 485,199.5 C489.60,200.43 494.30,201.22 498.9,201.9 C503.50,202.58 508.02,203.08 512.6,203.6 C517.18,204.12 518.50,204.47 526.4,205 C534.30,205.53 545.98,206.25 560,206.8 C574.02,207.35 602.08,208.05 610.5,208.3" fill="none" stroke="#fff" stroke-width="1.0"/>
<line x1="560" y1="208.3" x2="610.5" y2="208.3" stroke="#000" stroke-width="2.9"/>
<circle cx="107.4" cy="182.4" r="3.4" fill="#000"/>
<circle cx="268.5" cy="181.2" r="3.4" fill="#000"/>
<circle cx="440.7" cy="182.6" r="3.4" fill="#000"/>
<!-- GT vertical -->
<line x1="611" y1="158" x2="611" y2="208" stroke="#5a5a5a" stroke-width="3.6"/>
<line x1="611.6" y1="158" x2="611.6" y2="208" stroke="#8a8a8a" stroke-width="1.6"/>
<circle cx="610.8" cy="158.3" r="2.8" fill="#000"/>
<circle cx="610.6" cy="208.3" r="3.6" fill="#000"/>

<!-- ===== INPUT IMAGE ===== -->
<g id="photo"><svg x="23.5" y="221" width="200.5" height="188" viewBox="23.5 221 200.5 188" overflow="hidden">
<defs><filter id="pb" x="0" y="0" width="100%" height="100%"><feGaussianBlur stdDeviation="0.6"/></filter>
<pattern id="chk" x="0" y="0" width="3.4" height="2.6" patternUnits="userSpaceOnUse"><rect width="3.4" height="2.6" fill="#b89a78"/><path d="M0,0 L1.7,1.3 L0,2.6 M3.4,0 L1.7,1.3 L3.4,2.6" stroke="#3e3024" stroke-width="0.8" fill="none"/></pattern>
</defs>
<g filter="url(#pb)">
<rect x="20" y="218" width="210" height="195" fill="#727468"/>
<!-- upper wall -->
<rect x="20" y="218" width="210" height="40" fill="#7e8076"/>
<polygon points="20,218 102,218 102,238 64,235 20,231" fill="#8d8f80"/>
<rect x="188" y="218" width="31" height="39" fill="#8a8c84"/>
<polygon points="206.5,218 226,218 226,229" fill="#e8e8e6"/>
<rect x="219" y="228" width="7" height="18" fill="#bcbcba"/>
<!-- vent grill -->
<rect x="147.3" y="218" width="30.7" height="28.7" fill="#c0c0bc"/>
<g fill="#3c3c3a"><rect x="149.5" y="219.2" width="26.5" height="1.7"/><rect x="149.5" y="222.4" width="26.5" height="1.7"/><rect x="149.5" y="225.6" width="26.5" height="1.7"/><rect x="149.5" y="228.8" width="26.5" height="1.7"/><rect x="149.5" y="232" width="26.5" height="1.7"/><rect x="149.5" y="235.2" width="26.5" height="1.7"/><rect x="149.5" y="238.4" width="26.5" height="1.7"/><rect x="149.5" y="241.6" width="26.5" height="1.7"/></g>
<!-- hood left -->
<polygon points="20,232.3 123,242.6 216.8,257 216.8,260 20,256" fill="#8e8c8c"/>
<polygon points="41,234.3 123,242.6 123,255.5 41,256.2" fill="#aaa0a0"/>
<polygon points="20,230.6 123,241 216.8,255.8 216.8,257.2 123,242.8 20,232.6" fill="#5a5450"/>
<polygon points="20,232.5 34.7,234 34.7,254 20,254.5" fill="#c6b09c"/>
<polygon points="34.7,234 40.5,234.6 40.5,257 34.7,257" fill="#3a3632"/>
<polygon points="49,236.5 64,238 64,240 49,239.8" fill="#8a9ad0"/>
<polygon points="50,249.5 78,248 78,256 50,256.3" fill="#8894b8"/>
<polygon points="74,250.6 89,250.2 89,254 74,254.4" fill="url(#chk)"/>
<polygon points="97.4,246.2 118,245.8 118,255.2 97.4,255.6" fill="url(#chk)"/>
<polygon points="63,254 119.4,255 119.4,257.4 63,256.8" fill="#c8c8c8"/>
<polygon points="120,243.5 160,248.6 160,251.5 120,247" fill="#9ea2c0"/>
<polygon points="20,254.6 216.8,258.3 216.8,260.3 20,258.4" fill="#b6b4b8"/>
<polygon points="152,250 162,251.3 162,253.6 152,252.4" fill="#d0a898"/>
<polygon points="20,258.4 216.8,260.3 216.8,262 20,261.5" fill="#5c5c5a"/>
<!-- lower wall -->
<rect x="20" y="258" width="16" height="60" fill="#4a4c44"/>
<rect x="36" y="262" width="15" height="56" fill="#2e2e2c"/>
<polygon points="38,279 52,280.7 52,327 38,327" fill="#8e8e8e"/>
<rect x="50.5" y="263" width="14" height="15.7" fill="#d0dcf0"/>
<polygon points="53,277 62,264 64.3,264 55.5,278.5" fill="#4070c0"/>
<rect x="64.3" y="263" width="18" height="15.7" fill="#6a7a98"/>
<rect x="82.2" y="262" width="41" height="46" fill="#6e7266"/>
<rect x="123" y="261" width="13.2" height="38.7" fill="#dcd6d4"/>
<rect x="123" y="261" width="5.6" height="38.7" fill="#f0f0f0"/>
<rect x="130" y="263" width="5" height="34" fill="#c49890"/>
<rect x="136.2" y="262" width="26" height="46" fill="#6a6c62"/>
<rect x="162" y="262" width="64" height="56" fill="#767870"/>
<!-- oven -->
<rect x="52" y="280.7" width="15" height="38" fill="#c0c0c0"/>
<rect x="56.7" y="292.4" width="7" height="22" fill="#1e2630"/>
<rect x="57" y="283.5" width="5.5" height="1.8" fill="#d04040"/>
<rect x="58.5" y="290" width="3" height="2" fill="#e0c040"/>
<rect x="67" y="280" width="23.5" height="40" fill="#c8c8c8"/>
<rect x="72" y="283.5" width="16.4" height="30" fill="#3a9a80"/>
<rect x="76" y="287" width="9" height="18" fill="#58aa94"/>
<!-- counter items back -->
<rect x="90.5" y="298" width="15" height="20" fill="#b0b0b0"/>
<rect x="111" y="292" width="12" height="20" fill="#6a6a68"/>
<rect x="131.3" y="285.8" width="14" height="14" fill="#e2e2e2"/>
<polygon points="112,303 180,298.3 180,315 112,315" fill="#aaaaaa"/>
<rect x="134" y="302.5" width="4.3" height="8" fill="#3a6ab0"/>

<!-- bottom half -->
<rect x="20" y="315" width="160" height="46" fill="#3a3a38"/>
<rect x="38" y="300" width="14" height="27" fill="#8e8e8e"/>
<rect x="52" y="300" width="40.5" height="26.6" fill="#a8a8a8"/>
<rect x="71.6" y="300" width="18.4" height="12" fill="#4a9a82"/>
<rect x="20" y="306" width="18" height="54" fill="#555553"/>
<rect x="38" y="309" width="14" height="24" fill="#2a2622"/>
<rect x="41" y="314" width="2.5" height="16" fill="#e6e0d0"/>
<polygon points="92,302 180,298.3 180,306 92,318" fill="#a8a8a8"/>
<rect x="90" y="300" width="16" height="18" fill="#c4c4c4"/>
<rect x="106" y="301" width="13" height="15" fill="#b8b8b8"/>
<polygon points="38,326.5 180,297.5 180,309.5 38,340.5" fill="#9c9c9a"/>
<polygon points="38,338 180,307 180,309.8 38,341" fill="#b8b8b8"/>
<polygon points="120,321 178,309 178,342 120,342" fill="#414140"/>
<rect x="148" y="321" width="23" height="14" fill="#d6d040"/>
<rect x="138" y="320" width="10" height="16" fill="#e2e2e0"/>
<rect x="124.6" y="325" width="9.4" height="10" fill="#5aa060"/>
<rect x="178" y="300" width="50" height="32" fill="#8c8e84"/>
<polygon points="155,342 180,333 189.5,335 189.5,393 155,393" fill="#cacac8"/>
<rect x="187" y="321" width="40" height="25" fill="#bcbcbc"/>
<rect x="200" y="321" width="27" height="12" fill="#ece8e8"/>
<rect x="206" y="335" width="20" height="9" fill="#e4c440"/>
<polygon points="186,350 226,348 226,377 186,377" fill="#6a94d8"/>
<polygon points="189.5,355.6 226,354 226,390 189.5,388" fill="#ece4dc"/>
<ellipse cx="206" cy="373" rx="9" ry="7" fill="#d8b48a"/>
<polygon points="164,384 185,379 226,380 226,411 164,411" fill="#dad4d6"/>
<polygon points="173,386 196,381 226,392 226,411 184,411" fill="#a8a8a8"/>
<rect x="150" y="390" width="16" height="21" fill="#8a8a88"/>
<!-- island -->
<polygon points="20,359 148,331 157,346.5 20,403" fill="#aca8aa"/>
<polygon points="20,403 157,346.5 157,358 20,414" fill="#8e8c8c"/>
<polygon points="20,414 157,358 157,411 20,411" fill="#7c7b7a"/>
<polygon points="104,372 153,360 153,411 104,411" fill="#858584"/>
<polygon points="90,380 104,375 104,411 90,411" fill="#6e6e6c"/>
<polygon points="127.8,355 140,351 140,366 127.8,369" fill="#b4b4b6"/>
<polygon points="34.6,362.5 67,351 90,363.7 50.8,381" fill="#6f88b8"/>
<ellipse cx="64.5" cy="363.5" rx="10.5" ry="6.2" fill="#f0e8e0"/>
<ellipse cx="64.5" cy="361.8" rx="8.5" ry="4.2" fill="#b85a48"/>
<polygon points="84,347 110,336 137,335 137,349 100,357" fill="#1e1e1e"/>
<rect x="86.7" y="331" width="24.3" height="21" fill="#c4c4c6"/>
<ellipse cx="98.8" cy="332" rx="12.2" ry="3.4" fill="#a86048"/>
<rect x="25" y="311.6" width="6" height="64" fill="#b8b8b8"/>
</g>
</svg>
</g>

<!-- arrow img->backbone -->
<line x1="232.6" y1="314.7" x2="248" y2="314.7" stroke="#000" stroke-width="3.2"/>
<path d="M246.5,310 L256,314.7 L246.5,319.4 z" fill="#000"/>

<!-- backbone -->
<rect x="261.5" y="220.3" width="51" height="188.5" rx="6" fill="#d9d9d9" filter="url(#sh)"/>
<text class="sf" font-size="26" font-weight="bold" textLength="104.5" lengthAdjust="spacingAndGlyphs" transform="translate(278.6,262.6) rotate(90)">Backbone</text>

<!-- arrow backbone->features -->
<line x1="316.5" y1="314.7" x2="330" y2="314.7" stroke="#000" stroke-width="3.2"/>
<path d="M328.5,310 L338,314.7 L328.5,319.4 z" fill="#000"/>

<!-- left feature column -->
<rect x="342" y="218" width="24.8" height="193" rx="5" fill="none" stroke="#2a2a2a" stroke-width="1.3" stroke-dasharray="3.4 2.6"/>
<g id="lfeat" fill="#fde3e1" stroke="#1e1e1e" stroke-width="1.4"><rect x="345.6" y="220.5" width="16.8" height="17.8"/><rect x="345.6" y="244.5" width="16.8" height="17.8"/><rect x="345.6" y="268.5" width="16.8" height="17.8"/><rect x="345.6" y="292.5" width="16.8" height="17.8"/><rect x="345.6" y="316.5" width="16.8" height="17.8"/><rect x="345.6" y="340.5" width="16.8" height="17.8"/><rect x="345.6" y="364.5" width="16.8" height="17.8"/><rect x="345.6" y="388.5" width="16.8" height="17.8"/></g>

<!-- encoder -->
<rect x="388.5" y="219" width="50.5" height="188" rx="6" fill="#fff2cc" filter="url(#sh)"/>
<text class="sf" stroke="#000" stroke-width="0.2" font-size="18.2" textLength="157" lengthAdjust="spacingAndGlyphs" transform="translate(407.7,235) rotate(90)">Transformer Encoder</text>

<!-- right feature column -->
<rect x="461" y="216.5" width="25.5" height="193.8" rx="5" fill="none" stroke="#2a2a2a" stroke-width="1.3" stroke-dasharray="3.4 2.6"/>
<g id="rfeat" fill="#d9c0da" stroke="#1e1e1e" stroke-width="1.4"><rect x="464.6" y="222.1" width="17.4" height="18"/><rect x="464.6" y="243.3" width="17.4" height="18"/><rect x="464.6" y="267.7" width="17.4" height="18"/><rect x="464.6" y="291.6" width="17.4" height="18"/><rect x="464.6" y="315.9" width="17.4" height="18"/><rect x="464.6" y="339.6" width="17.4" height="18"/><rect x="464.6" y="363.8" width="17.4" height="18"/><rect x="464.6" y="388.0" width="17.4" height="18"/></g>
<g id="arrows"><line x1="365" y1="229.4" x2="381" y2="229.4" stroke="#000" stroke-width="1.6"/><path d="M380,226.0 L387,229.4 L380,232.8 z" fill="#000"/><line x1="439" y1="230.2" x2="455" y2="230.2" stroke="#000" stroke-width="1.6"/><path d="M454.5,226.8 L461.5,230.2 L454.5,233.6 z" fill="#000"/><line x1="365" y1="253.5" x2="381" y2="253.5" stroke="#000" stroke-width="1.6"/><path d="M380,250.1 L387,253.5 L380,256.9 z" fill="#000"/><line x1="439" y1="254.3" x2="455" y2="254.3" stroke="#000" stroke-width="1.6"/><path d="M454.5,250.9 L461.5,254.3 L454.5,257.7 z" fill="#000"/><line x1="365" y1="277.6" x2="381" y2="277.6" stroke="#000" stroke-width="1.6"/><path d="M380,274.2 L387,277.6 L380,281.0 z" fill="#000"/><line x1="439" y1="278.4" x2="455" y2="278.4" stroke="#000" stroke-width="1.6"/><path d="M454.5,275.0 L461.5,278.4 L454.5,281.8 z" fill="#000"/><line x1="365" y1="301.7" x2="381" y2="301.7" stroke="#000" stroke-width="1.6"/><path d="M380,298.3 L387,301.7 L380,305.1 z" fill="#000"/><line x1="439" y1="302.5" x2="455" y2="302.5" stroke="#000" stroke-width="1.6"/><path d="M454.5,299.1 L461.5,302.5 L454.5,305.9 z" fill="#000"/><line x1="365" y1="325.8" x2="381" y2="325.8" stroke="#000" stroke-width="1.6"/><path d="M380,322.4 L387,325.8 L380,329.2 z" fill="#000"/><line x1="439" y1="326.6" x2="455" y2="326.6" stroke="#000" stroke-width="1.6"/><path d="M454.5,323.2 L461.5,326.6 L454.5,330.0 z" fill="#000"/><line x1="365" y1="349.9" x2="381" y2="349.9" stroke="#000" stroke-width="1.6"/><path d="M380,346.5 L387,349.9 L380,353.3 z" fill="#000"/><line x1="439" y1="350.7" x2="455" y2="350.7" stroke="#000" stroke-width="1.6"/><path d="M454.5,347.3 L461.5,350.7 L454.5,354.1 z" fill="#000"/><line x1="365" y1="374.0" x2="381" y2="374.0" stroke="#000" stroke-width="1.6"/><path d="M380,370.6 L387,374.0 L380,377.4 z" fill="#000"/><line x1="439" y1="374.8" x2="455" y2="374.8" stroke="#000" stroke-width="1.6"/><path d="M454.5,371.4 L461.5,374.8 L454.5,378.2 z" fill="#000"/><line x1="365" y1="398.1" x2="381" y2="398.1" stroke="#000" stroke-width="1.6"/><path d="M380,394.7 L387,398.1 L380,401.5 z" fill="#000"/><line x1="439" y1="398.9" x2="455" y2="398.9" stroke="#000" stroke-width="1.6"/><path d="M454.5,395.5 L461.5,398.9 L454.5,402.3 z" fill="#000"/><line x1="553.2" y1="256" x2="553.2" y2="239" stroke="#000" stroke-width="1.6"/><path d="M549.9,240.5 L553.2,233.5 L556.5,240.5 z" fill="#000"/><line x1="577.3" y1="256" x2="577.3" y2="239" stroke="#000" stroke-width="1.6"/><path d="M574.0,240.5 L577.3,233.5 L580.6,240.5 z" fill="#000"/><line x1="601.4" y1="256" x2="601.4" y2="239" stroke="#000" stroke-width="1.6"/><path d="M598.1,240.5 L601.4,233.5 L604.7,240.5 z" fill="#000"/><line x1="625.5" y1="256" x2="625.5" y2="239" stroke="#000" stroke-width="1.6"/><path d="M622.2,240.5 L625.5,233.5 L628.8,240.5 z" fill="#000"/><line x1="649.6" y1="256" x2="649.6" y2="239" stroke="#000" stroke-width="1.6"/><path d="M646.3,240.5 L649.6,233.5 L652.9,240.5 z" fill="#000"/><line x1="673.7" y1="256" x2="673.7" y2="239" stroke="#000" stroke-width="1.6"/><path d="M670.4,240.5 L673.7,233.5 L677.0,240.5 z" fill="#000"/><line x1="551.4" y1="398" x2="551.4" y2="386" stroke="#000" stroke-width="1.6"/><path d="M548.1,387.5 L551.4,380.5 L554.7,387.5 z" fill="#000"/><line x1="575.5" y1="398" x2="575.5" y2="386" stroke="#000" stroke-width="1.6"/><path d="M572.2,387.5 L575.5,380.5 L578.8,387.5 z" fill="#000"/><line x1="599.6" y1="398" x2="599.6" y2="386" stroke="#000" stroke-width="1.6"/><path d="M596.3,387.5 L599.6,380.5 L602.9,387.5 z" fill="#000"/><line x1="623.7" y1="398" x2="623.7" y2="386" stroke="#000" stroke-width="1.6"/><path d="M620.4,387.5 L623.7,380.5 L627.0,387.5 z" fill="#000"/><line x1="647.8" y1="398" x2="647.8" y2="386" stroke="#000" stroke-width="1.6"/><path d="M644.5,387.5 L647.8,380.5 L651.1,387.5 z" fill="#000"/><line x1="671.9" y1="398" x2="671.9" y2="386" stroke="#000" stroke-width="1.6"/><path d="M668.6,387.5 L671.9,380.5 L675.2,387.5 z" fill="#000"/></g>

<!-- curved arrow to decoder -->
<path d="M485.7,313.2 C499,313 503,322 503.3,332 C503.8,341 508,346.5 515.5,349.8" fill="none" stroke="#000" stroke-width="1.7"/>
<path d="M513.1,352.4 L520.8,352.3 L515.9,346.1 z" fill="#000"/>

<!-- prediction heads & decoder -->
<rect x="521.2" y="256" width="188" height="49.5" rx="5" fill="#e2efda" filter="url(#sh)"/>
<rect x="521.2" y="327.7" width="188" height="48.7" rx="5" fill="#dce6f2" filter="url(#sh)"/>
<text class="sf" x="552.4" y="287" font-size="16.6" font-weight="bold" textLength="124.6" lengthAdjust="spacingAndGlyphs">Prediction Heads</text>
<text class="sf" x="535.8" y="358.1" font-size="16.6" font-weight="bold" textLength="157.6" lengthAdjust="spacingAndGlyphs">Transformer Decoder</text>
<!-- arrow decoder->heads -->
<line x1="614.5" y1="327.5" x2="614.5" y2="314" stroke="#000" stroke-width="3.2"/>
<path d="M609.8,315.5 L614.5,306 L619.2,315.5 z" fill="#000"/>

<!-- top colored squares -->
<rect x="539.7" y="212.8" width="146.8" height="24.5" rx="5" fill="none" stroke="#2a2a2a" stroke-width="1.3" stroke-dasharray="3.4 2.6"/>
<g id="topsq" stroke="#1e1e1e" stroke-width="1.4"><rect x="544.1" y="216.3" width="18.2" height="16.3" fill="#9dc3e6"/><rect x="568.2" y="216.3" width="18.2" height="16.3" fill="#a9d18e"/><rect x="592.3" y="216.3" width="18.2" height="16.3" fill="#7030a0"/><rect x="616.4" y="216.3" width="18.2" height="16.3" fill="#c55a11"/><rect x="640.5" y="216.3" width="18.2" height="16.3" fill="#e05cd6"/><rect x="664.6" y="216.3" width="18.2" height="16.3" fill="#00d2d0"/></g>
<!-- bottom colored squares -->
<rect x="538.2" y="394.6" width="147.5" height="25.3" rx="5" fill="none" stroke="#2a2a2a" stroke-width="1.3" stroke-dasharray="3.4 2.6"/>
<g id="botsq" stroke="#1e1e1e" stroke-width="1.4"><rect x="542.3" y="398.6" width="18.2" height="17.1" fill="#9dc3e6"/><rect x="566.4" y="398.6" width="18.2" height="17.1" fill="#a9d18e"/><rect x="590.5" y="398.6" width="18.2" height="17.1" fill="#7030a0"/><rect x="614.6" y="398.6" width="18.2" height="17.1" fill="#c55a11"/><rect x="638.7" y="398.6" width="18.2" height="17.1" fill="#e05cd6"/><rect x="662.8" y="398.6" width="18.2" height="17.1" fill="#00d2d0"/></g>

</svg>
</body></html>
